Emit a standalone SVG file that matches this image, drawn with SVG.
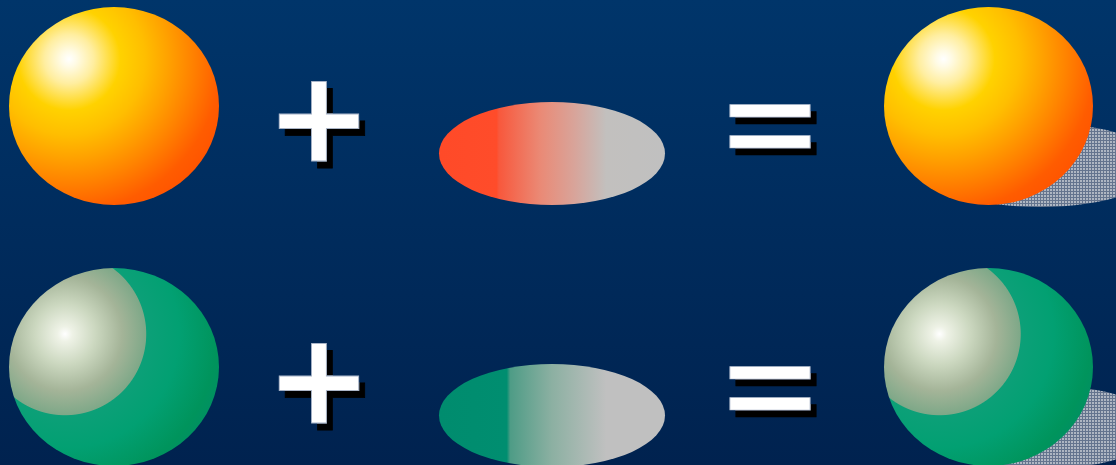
<svg xmlns="http://www.w3.org/2000/svg" width="1116" height="465" viewBox="0 0 1116 465">
<defs>
<style>
.op{font-family:"Liberation Sans",Arial,sans-serif;font-weight:bold;font-size:160px;text-anchor:middle;fill:#ffffff;stroke:#a8b4c8;stroke-width:0.8;filter:url(#drop)}
.pl{font-family:"DejaVu Sans",sans-serif;font-size:127px}
</style>
<filter id="drop" x="-20%" y="-20%" width="150%" height="150%">
<feOffset in="SourceAlpha" dx="6" dy="7" result="o"/>
<feFlood flood-color="#000000"/>
<feComposite in2="o" operator="in" result="s"/>
<feMerge><feMergeNode in="s"/><feMergeNode in="SourceGraphic"/></feMerge>
</filter>
<filter id="dropE" x="-20%" y="-40%" width="150%" height="200%">
<feOffset in="SourceAlpha" dx="6" dy="9.7" result="o"/>
<feFlood flood-color="#000000"/>
<feComposite in2="o" operator="in" result="s"/>
<feMerge><feMergeNode in="s"/><feMergeNode in="SourceGraphic"/></feMerge>
</filter>
<linearGradient id="bg" x1="0" y1="0" x2="0" y2="1">
<stop offset="0" stop-color="#00356a"/>
<stop offset="1" stop-color="#00224f"/>
</linearGradient>
<radialGradient id="orange" gradientUnits="userSpaceOnUse" cx="-45" cy="-47" r="190" fx="-45" fy="-47">
<stop offset="0" stop-color="#ffffff"/>
<stop offset="0.04" stop-color="#fffbe6"/>
<stop offset="0.13" stop-color="#ffeea0"/>
<stop offset="0.27" stop-color="#ffd200"/>
<stop offset="0.4" stop-color="#ffbe00"/>
<stop offset="0.52" stop-color="#ffa200"/>
<stop offset="0.65" stop-color="#ff8200"/>
<stop offset="0.8" stop-color="#ff5c00"/>
<stop offset="1" stop-color="#ff4a00"/>
</radialGradient>
<radialGradient id="green" gradientUnits="userSpaceOnUse" cx="-49" cy="-33" r="190" fx="-49" fy="-33">
<stop offset="0" stop-color="#ffffff"/>
<stop offset="0.04" stop-color="#eef2e6"/>
<stop offset="0.16" stop-color="#ccd8c0"/>
<stop offset="0.3" stop-color="#a4b498"/>
<stop offset="0.425" stop-color="#7ea888"/>
<stop offset="0.43" stop-color="#0ca078"/>
<stop offset="0.6" stop-color="#02a072"/>
<stop offset="0.8" stop-color="#00945c"/>
<stop offset="1" stop-color="#00886c"/>
</radialGradient>
<linearGradient id="capR" x1="0" y1="0" x2="1" y2="0">
<stop offset="0" stop-color="#ff4a28"/>
<stop offset="0.255" stop-color="#ff4c2a"/>
<stop offset="0.265" stop-color="#f8583c"/>
<stop offset="0.45" stop-color="#ea8a76"/>
<stop offset="0.6" stop-color="#d8a49a"/>
<stop offset="0.74" stop-color="#c2c0be"/>
<stop offset="1" stop-color="#c0c0c0"/>
</linearGradient>
<linearGradient id="capG" x1="0" y1="0" x2="1" y2="0">
<stop offset="0" stop-color="#008c6e"/>
<stop offset="0.3" stop-color="#008e70"/>
<stop offset="0.315" stop-color="#4e9c86"/>
<stop offset="0.5" stop-color="#8cb0a2"/>
<stop offset="0.74" stop-color="#c0c0c0"/>
<stop offset="1" stop-color="#c0c0c0"/>
</linearGradient>
<pattern id="dots" width="3" height="3" patternUnits="userSpaceOnUse">
<rect width="3" height="3" fill="#64748e"/>
<rect width="2" height="2" fill="#aeb6c2"/>
</pattern>
</defs>
<rect width="1116" height="465" fill="url(#bg)"/>

<g id="sphere-orange-left" transform="translate(114,106)">
<ellipse cx="0" cy="0" rx="105" ry="99" fill="url(#orange)"/>
</g>
<g id="plus-top">
<text class="op pl" x="319" y="161">+</text>
</g>
<g id="capsule-red">
<ellipse cx="552" cy="153.5" rx="113" ry="51.5" fill="url(#capR)"/>
</g>
<g id="equals-top" transform="translate(770,125.5) scale(1,0.72)">
<text class="op" style="filter:url(#dropE)" x="0" y="53.6">=</text>
</g>
<g id="sphere-orange-right">
<ellipse cx="1040" cy="165" rx="120" ry="42" fill="url(#dots)"/>
<g transform="translate(988.5,106)">
<ellipse cx="0" cy="0" rx="104.5" ry="99" fill="url(#orange)"/>
</g>
</g>

<g id="sphere-green-left" transform="translate(114,367)">
<ellipse cx="0" cy="0" rx="105" ry="99" fill="url(#green)"/>
</g>
<g id="plus-bottom">
<text class="op pl" x="319" y="423">+</text>
</g>
<g id="capsule-green">
<ellipse cx="552" cy="415.5" rx="113" ry="51.5" fill="url(#capG)"/>
</g>
<g id="equals-bottom" transform="translate(770,387.5) scale(1,0.72)">
<text class="op" style="filter:url(#dropE)" x="0" y="53.6">=</text>
</g>
<g id="sphere-green-right">
<ellipse cx="1040" cy="427" rx="120" ry="42" fill="url(#dots)"/>
<g transform="translate(988.5,367)">
<ellipse cx="0" cy="0" rx="104.5" ry="99" fill="url(#green)"/>
</g>
</g>
<g id="connectors"/>
</svg>
